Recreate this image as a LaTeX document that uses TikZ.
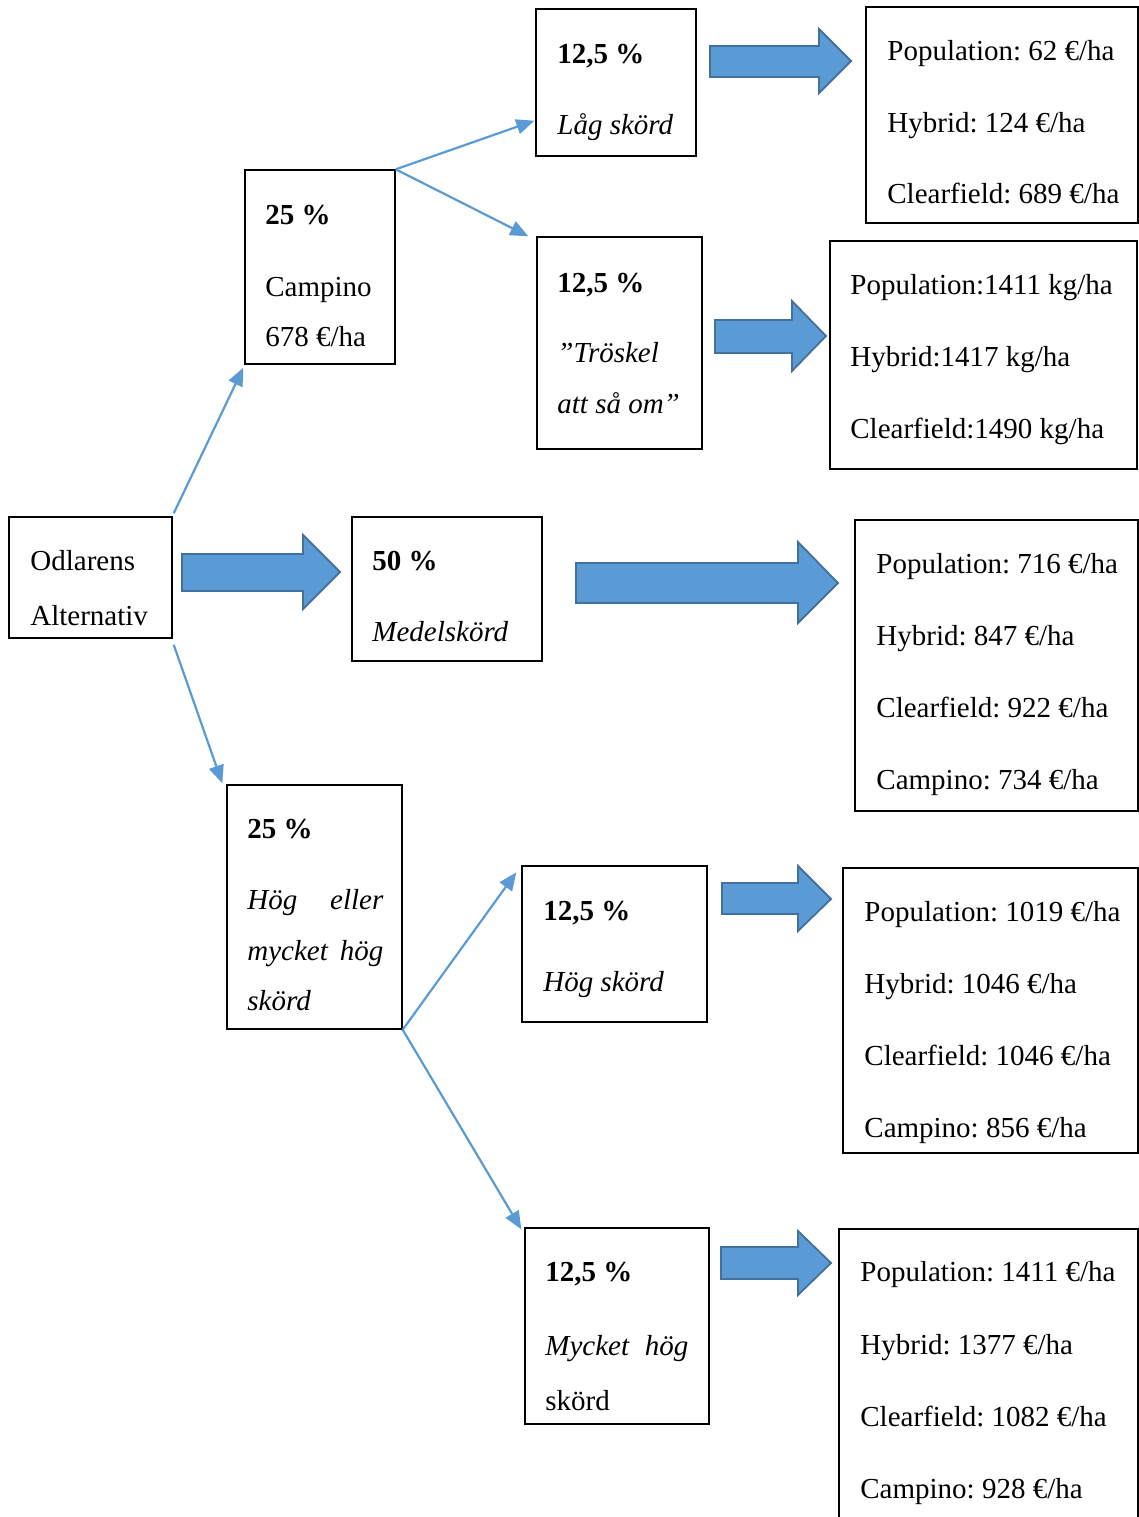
\documentclass[tikz,border=0pt]{standalone}
\usepackage{fontspec}
\setmainfont{Liberation Serif}
\usetikzlibrary{fit,calc,arrows.meta}
\definecolor{afill}{HTML}{5B9BD5}
\definecolor{aedge}{HTML}{41719C}
\definecolor{linkblue}{HTML}{5B9BD5}
\frenchspacing
\newcommand\blockarr[8]{\draw[barrow] (#1,#4) -- (#2,#4) -- (#2,#6) -- (#3,#8) -- (#2,#7) -- (#2,#5) -- (#1,#5) -- cycle;}
\begin{document}
\begin{tikzpicture}[x=0.5pt,y=-0.5pt,
  box/.style={draw=black, line width=0.7pt, inner sep=0pt, fill=none},
  txt/.style={anchor=base west, inner sep=0pt, font=\fontsize{14.5pt}{17pt}\selectfont\frenchspacing},
  barrow/.style={fill=afill, draw=aedge, line width=0.9pt, line join=miter},
  conn/.style={draw=linkblue, line width=1.1pt, -{Triangle[length=9pt,width=7.5pt]}}]
\clip (0,0) rectangle (1139,1517);
\fill[white] (0,0) rectangle (1139,1517);

% boxes
\node[box, fit={(9,517) (172,638)}] (odl) {};
\node[box, fit={(245,170) (395,364)}] (camp) {};
\node[box, fit={(536,9) (696,156)}] (lag) {};
\node[box, fit={(537,237) (702,449)}] (tros) {};
\node[box, fit={(866,7) (1138,223)}] (r1) {};
\node[box, fit={(830,241) (1137,469)}] (r2) {};
\node[box, fit={(352,517) (542,661)}] (med) {};
\node[box, fit={(855,520) (1138,811)}] (r3) {};
\node[box, fit={(227,785) (402,1029)}] (hog) {};
\node[box, fit={(522,866) (707,1022)}] (hs) {};
\node[box, fit={(843,868) (1138,1153)}] (r4) {};
\node[box, fit={(525,1228) (709,1424)}] (mh) {};
\node[box, fit={(839,1229) (1138,1560)}] (r5) {};

% texts
\node[txt] (odl1) at (30,570) {Odlarens};
\node[txt] (odl2) at (30,625) {Alternativ};

\node[txt] (camp1) at (265,224) {\textbf{25 \%}};
\node[txt] (camp2) at (265,296) {Campino};
\node[txt] (camp3) at (265,346) {678 €/ha};

\node[txt] (lag1) at (557,63) {\textbf{12,5 \%}};
\node[txt] (lag2) at (557,134) {\textit{Låg skörd}};

\node[txt] (tros1) at (557,292) {\textbf{12,5 \%}};
\node[txt] (tros2) at (557,362) {\textit{”Tröskel}};
\node[txt] (tros3) at (557,413) {\textit{att så om”}};

\node[txt] (r1a) at (887,60) {Population: 62 €/ha};
\node[txt] (r1b) at (887,132) {Hybrid: 124 €/ha};
\node[txt] (r1c) at (887,203) {Clearfield: 689 €/ha};

\node[txt] (r2a) at (850,294) {Population:1411 kg/ha};
\node[txt] (r2b) at (850,366) {Hybrid:1417 kg/ha};
\node[txt] (r2c) at (850,438) {Clearfield:1490 kg/ha};

\node[txt] (med1) at (372,570) {\textbf{50 \%}};
\node[txt] (med2) at (372,641) {\textit{Medelskörd}};

\node[txt] (r3a) at (876,573) {Population: 716 €/ha};
\node[txt] (r3b) at (876,645) {Hybrid: 847 €/ha};
\node[txt] (r3c) at (876,717) {Clearfield: 922 €/ha};
\node[txt] (r3d) at (876,789) {Campino: 734 €/ha};

\node[txt] (hog1) at (247,838) {\textbf{25 \%}};
\node[txt] (hog2) at (247,909) {\makebox[68pt][s]{\itshape Hög eller}};
\node[txt] (hog3) at (247,960) {\makebox[68pt][s]{\itshape mycket hög}};
\node[txt] (hog4) at (247,1010) {\textit{skörd}};

\node[txt] (hs1) at (543,920) {\textbf{12,5 \%}};
\node[txt] (hs2) at (543,991) {\textit{Hög skörd}};

\node[txt] (r4a) at (864,921) {Population: 1019 €/ha};
\node[txt] (r4b) at (864,993) {Hybrid: 1046 €/ha};
\node[txt] (r4c) at (864,1065) {Clearfield: 1046 €/ha};
\node[txt] (r4d) at (864,1137) {Campino: 856 €/ha};

\node[txt] (mh1) at (545,1281) {\textbf{12,5 \%}};
\node[txt] (mh2) at (545,1355) {\makebox[71.5pt][s]{\itshape Mycket hög}};
\node[txt] (mh3) at (545,1410) {skörd};

\node[txt] (r5a) at (860,1281) {Population: 1411 €/ha};
\node[txt] (r5b) at (860,1354) {Hybrid: 1377 €/ha};
\node[txt] (r5c) at (860,1426) {Clearfield: 1082 €/ha};
\node[txt] (r5d) at (860,1498) {Campino: 928 €/ha};

% thin connectors
\draw[conn] ($(odl.north east)+(1,-3)$) -- ($(camp.south west)+(-1,3)$);
\draw[conn] ($(odl.south east)+(1,6)$) -- ($(hog.north west)+(-4,-1)$);
\draw[conn] (camp.north east) -- ($(lag.south west)+(-1,-36)$);
\draw[conn] (camp.north east) -- ($(tros.north west)+(-8,0)$);
\draw[conn] (hog.south east) -- ($(hs.north west)+(-5,7)$);
\draw[conn] (hog.south east) -- ($(mh.north west)+(-3,2)$);

% block arrows
\blockarr{182}{303}{340}{554}{591}{535}{609}{572}
\blockarr{576}{798}{838}{563}{603}{542}{623}{583}
\blockarr{710}{819}{851}{46}{77}{29}{93}{61}
\blockarr{715}{792}{826}{320}{353}{301}{371}{336}
\blockarr{722}{798}{831}{883}{914}{866}{931}{899}
\blockarr{721}{798}{831}{1247}{1279}{1231}{1295}{1263}
\end{tikzpicture}
\end{document}
